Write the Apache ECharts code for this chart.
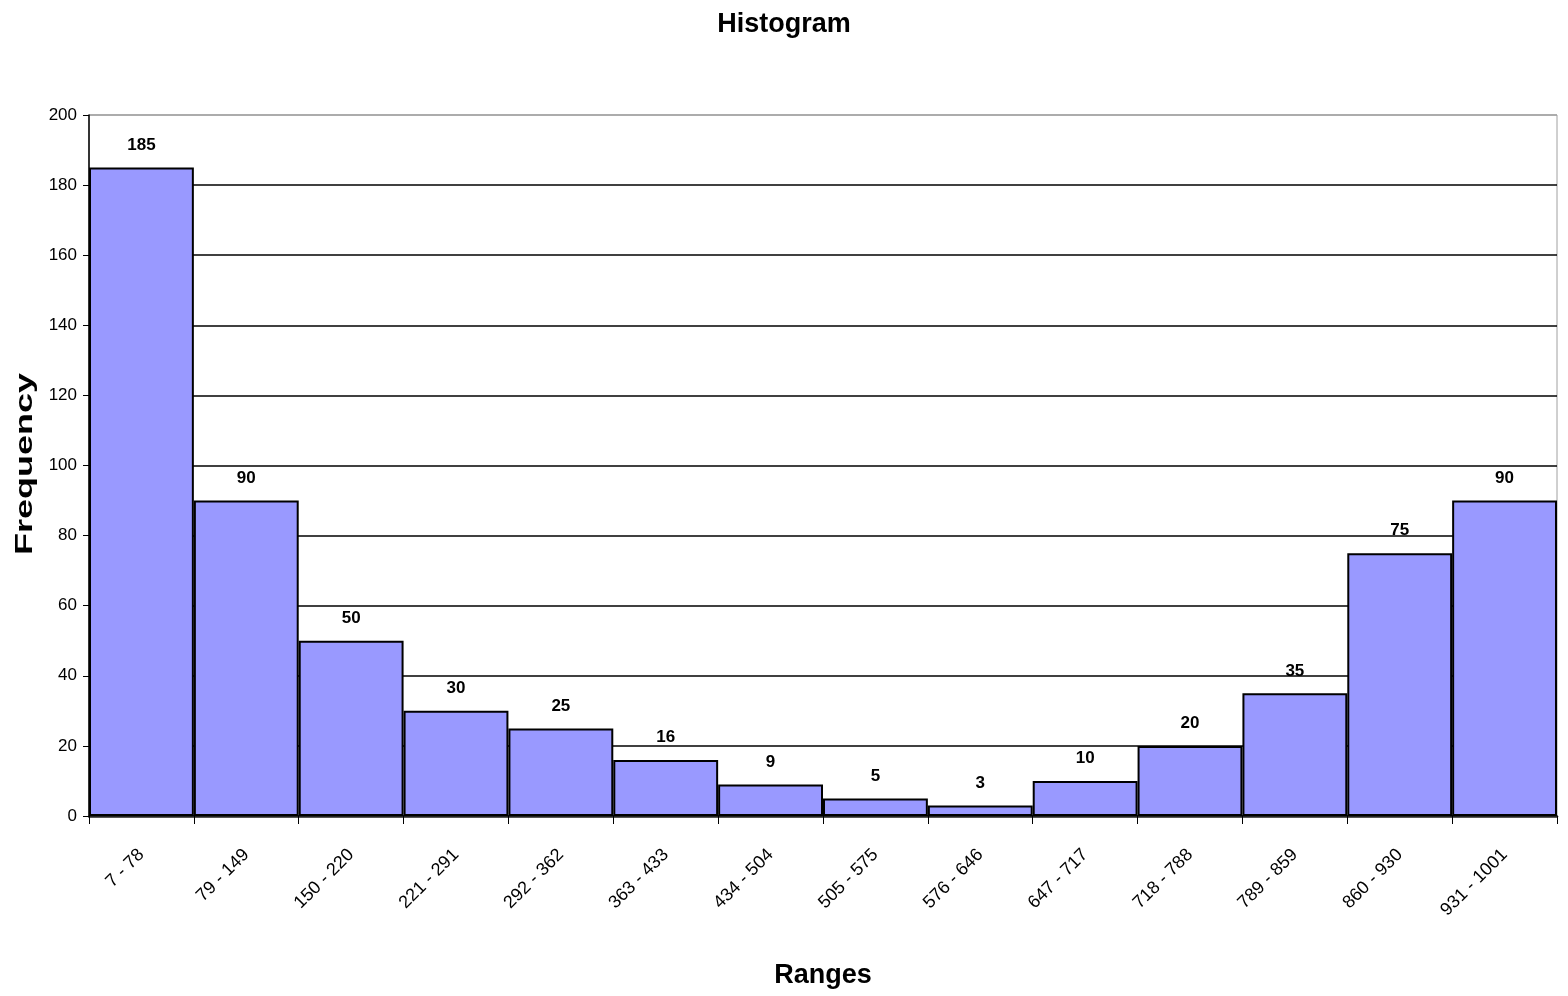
<!DOCTYPE html>
<html>
<head>
<meta charset="utf-8">
<script src="https://cdn.jsdelivr.net/npm/echarts@6/dist/echarts.min.js"></script>
<style>
html,body{margin:0;padding:0;background:#fff;}
#chart{width:1568px;height:996px;}
</style>
</head>
<body>
<div id="chart"></div>
<script>
const categories = ['7 - 78','79 - 149','150 - 220','221 - 291','292 - 362','363 - 433','434 - 504','505 - 575','576 - 646','647 - 717','718 - 788','789 - 859','860 - 930','931 - 1001'];
const frequency = [185, 90, 50, 30, 25, 16, 9, 5, 3, 10, 20, 35, 75, 90];
const yTicks = [0, 200, 20];

const narrow = '"Liberation Sans Narrow", "Arial Narrow", "Liberation Sans", sans-serif';
const splitColors = [];
for (let v = yTicks[0]; v <= yTicks[1]; v += yTicks[2]) splitColors.push(v === yTicks[1] ? '#a0a0a0' : '#000000');

const chart = echarts.init(document.getElementById('chart'));
chart.setOption({
  animation: false,
  backgroundColor: '#ffffff',
  title: {
    text: 'Histogram',
    left: 'center',
    top: 6,
    textStyle: { fontFamily: narrow, fontSize: 27, fontWeight: 'bold', color: '#000' }
  },
  graphic: [{
    type: 'text',
    x: 25, y: 464,
    rotation: Math.PI / 2,
    scaleX: 1.5,
    style: {
      text: 'Frequency',
      fontFamily: '"Liberation Sans", Arial, sans-serif',
      fontSize: 24, fontWeight: 'bold', fill: '#000',
      align: 'center', verticalAlign: 'middle'
    }
  }],
  grid: {
    left: 89, right: 11, top: 115, bottom: 180,
    show: true, borderColor: '#a0a0a0', borderWidth: 1, containLabel: false
  },
  xAxis: {
    type: 'category',
    data: categories,
    name: 'Ranges',
    nameLocation: 'middle',
    nameGap: 146,
    nameTextStyle: { fontFamily: narrow, fontSize: 27, fontWeight: 'bold', color: '#000' },
    axisLine: { show: true, lineStyle: { color: '#222', width: 2.5 } },
    axisTick: { show: true, alignWithLabel: false, length: 8, lineStyle: { color: '#000' } },
    axisLabel: { rotate: 45, margin: 36, fontFamily: narrow, fontSize: 18, color: '#000', interval: 0 },
    splitLine: { show: false }
  },
  yAxis: {
    type: 'value',
    min: yTicks[0], max: yTicks[1], interval: yTicks[2],
    axisLine: { show: true, lineStyle: { color: '#000', width: 1.5 } },
    axisTick: { show: true, length: 6, lineStyle: { color: '#000' } },
    axisLabel: { fontFamily: narrow, fontSize: 17, color: '#000', margin: 12 },
    splitLine: { show: true, lineStyle: { color: splitColors, width: 1.5 } }
  },
  series: [{
    type: 'bar',
    data: frequency,
    barCategoryGap: 0,
    itemStyle: { color: '#9999ff', borderColor: '#000', borderWidth: 2 },
    label: {
      show: true, position: 'top', distance: 14,
      fontFamily: narrow, fontSize: 17, fontWeight: 'bold', color: '#000'
    }
  }]
});
</script>
</body>
</html>
